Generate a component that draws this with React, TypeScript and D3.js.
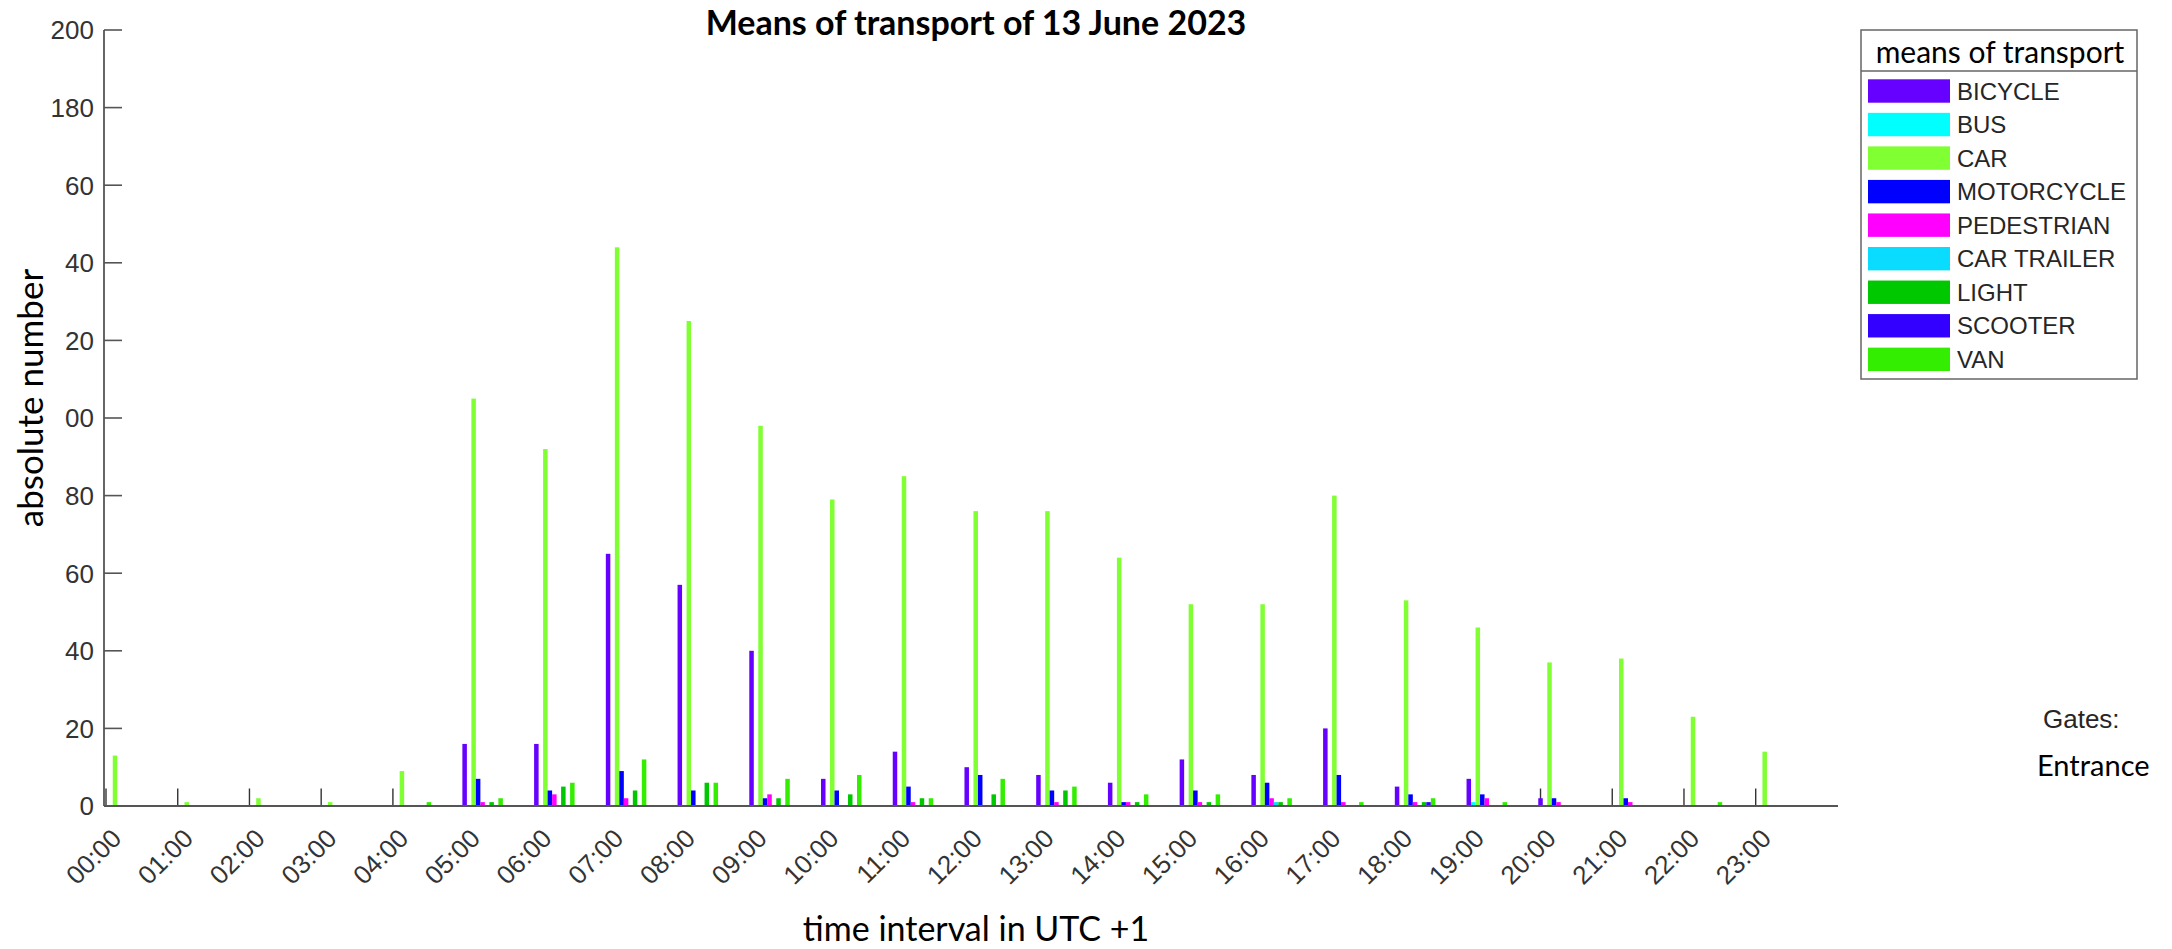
import React from "react";
import * as d3 from "d3";

const hours = ["00:00","01:00","02:00","03:00","04:00","05:00","06:00","07:00","08:00","09:00","10:00","11:00","12:00","13:00","14:00","15:00","16:00","17:00","18:00","19:00","20:00","21:00","22:00","23:00"];

const seriesNames = ["BICYCLE","BUS","CAR","MOTORCYCLE","PEDESTRIAN","CAR TRAILER","LIGHT","SCOOTER","VAN"];
const seriesColors = ["#6600ff","#00ffff","#80ff33","#0000ff","#ff00ff","#0adcff","#00c800","#3300ff","#33ee00"];

const bicycle    = [0,0,0,0,0,16,16,65,57,40,7,14,10,8,6,12,8,20,5,7,2,0,0,0];
const bus        = [0,0,0,0,0,0,0,0,0,0,0,0,0,0,0,0,0,0,0,1,0,0,0,0];
const car        = [13,1,2,1,9,105,92,144,125,98,79,85,76,76,64,52,52,80,53,46,37,38,23,14];
const motorcycle = [0,0,0,0,0,7,4,9,4,2,4,5,8,4,1,4,6,8,3,3,2,2,0,0];
const pedestrian = [0,0,0,0,0,1,3,2,0,3,0,1,0,1,1,1,2,1,1,2,1,1,0,0];
const carTrailer = [0,0,0,0,0,0,0,0,0,0,0,0,0,0,0,0,1,0,0,0,0,0,0,0];
const light      = [0,0,0,0,0,1,5,4,6,2,3,2,3,4,1,1,1,0,1,0,0,0,0,0];
const scooter    = [0,0,0,0,0,0,0,0,0,0,0,0,0,0,0,0,0,0,1,0,0,0,0,0];
const van        = [0,0,0,0,1,2,6,12,6,7,8,2,7,5,3,3,2,1,2,1,0,0,1,0];

const seriesValues = [bicycle, bus, car, motorcycle, pedestrian, carTrailer, light, scooter, van];

const yTickValues = [0,20,40,60,80,100,120,140,160,180,200];
const yTickLabels = ["0","20","40","60","80","00","20","40","60","180","200"];

const W = 2172, H = 949;

export default function App() {
  const x = d3.scaleLinear().domain([0, 23]).range([106, 1755.7]);
  const y = d3.scaleLinear().domain([0, 200]).range([806, 30]);
  const step = 4.5;
  const barW = 4.5;
  const axisColor = "#555555";
  const textColor = "#333333";
  const legendX = 1861, legendY = 30, legendW = 276, legendH = 349;
  const rowY = d3.scaleLinear().domain([0, 8]).range([91, 91 + 8 * 33.54]);

  return (
    <svg width={W} height={H} style={{ position: "absolute", left: 0, top: 0, display: "block", background: "#fff" }}>
      {/* title */}
      <text x={976} y={35} textAnchor="middle" fontFamily="Lato" fontWeight="bold" fontSize={34} fill="#000">
        Means of transport of 13 June 2023
      </text>

      {/* hour ticks (behind bars) */}
      {hours.map((h, i) => (
        <line key={"ht" + i} x1={x(i)} x2={x(i)} y1={y(0)} y2={y(0) - 17.5} stroke="#333" strokeWidth={1.4} />
      ))}

      {/* bars */}
      {seriesValues.map((vals, j) => (
        <g key={"s" + j} fill={seriesColors[j]}>
          {vals.map((v, i) =>
            v > 0 ? (
              <rect key={i} x={x(i) + j * step - barW / 2} y={y(v)} width={barW} height={y(0) - y(v)} />
            ) : null
          )}
        </g>
      ))}

      {/* y axis */}
      <line x1={104} x2={104} y1={y(200)} y2={y(0)} stroke={axisColor} strokeWidth={1.8} />
      {yTickValues.map((v, k) => (
        <g key={"yt" + k}>
          <line x1={104} x2={122} y1={y(v)} y2={y(v)} stroke={axisColor} strokeWidth={1.6} />
          <text x={94} y={y(v)} dy="0.36em" textAnchor="end" fontFamily="Liberation Sans, Arial" fontSize={26} fill={textColor}>
            {yTickLabels[k]}
          </text>
        </g>
      ))}

      {/* x axis */}
      <line x1={104} x2={1838} y1={y(0)} y2={y(0)} stroke={axisColor} strokeWidth={1.8} />
      {hours.map((h, i) => {
        const px = x(i) + 4 * step - 1;
        const py = 840;
        return (
          <text key={"xl" + i} transform={`translate(${px},${py}) rotate(-45)`} textAnchor="end"
            fontFamily="Liberation Sans, Arial" fontSize={26} fill={textColor}>
            {h}
          </text>
        );
      })}

      {/* axis titles */}
      <text x={976} y={941} textAnchor="middle" fontFamily="Lato" fontSize={34} fill="#000">
        time interval in UTC +1
      </text>
      <text transform={`translate(43,398) rotate(-90)`} textAnchor="middle" fontFamily="Lato" fontSize={35} fill="#000">
        absolute number
      </text>

      {/* legend */}
      <rect x={legendX} y={legendY} width={legendW} height={legendH} fill="#fff" stroke="#666" strokeWidth={1.5} />
      <line x1={legendX} x2={legendX + legendW} y1={71} y2={71} stroke="#666" strokeWidth={1.5} />
      <text x={2000} y={63} textAnchor="middle" fontFamily="Lato" fontSize={30} fill="#000">means of transport</text>
      {seriesNames.map((name, j) => (
        <g key={"lg" + j}>
          <rect x={1868} y={rowY(j) - 11.7} width={82} height={23.4} fill={seriesColors[j]} />
          <text x={1957} y={rowY(j) + 8.7} fontFamily="Liberation Sans, Arial" fontSize={24} fill="#262626">{name}</text>
        </g>
      ))}

      {/* gates annotation */}
      <text x={2043} y={728} fontFamily="Liberation Sans, Arial" fontSize={26} fill="#262626">Gates:</text>
      <text x={2037} y={776} fontFamily="Lato" fontSize={29} fill="#000">Entrance</text>
    </svg>
  );
}
